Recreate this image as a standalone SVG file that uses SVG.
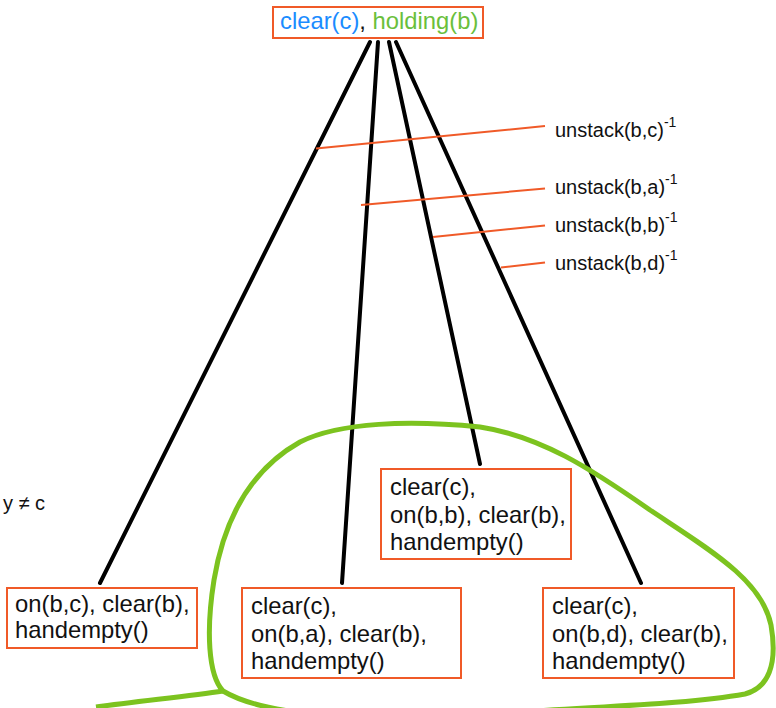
<svg xmlns="http://www.w3.org/2000/svg" width="776" height="708" viewBox="0 0 776 708">
<style>
.box{fill:#fff;stroke:#f05a28;stroke-width:2}
.t{font-family:"Liberation Sans",Arial,sans-serif;font-size:23.8px;fill:#111}
.lbl{font-family:"Liberation Sans",Arial,sans-serif;font-size:20px;fill:#111}
.sup{font-size:14px}
.edge{stroke:#000;stroke-width:4;fill:none;stroke-linecap:round}
.tick{stroke:#f05a28;stroke-width:2;fill:none}
.loop{stroke:#7cc31f;stroke-width:5;fill:none;stroke-linejoin:round}
</style>
<rect width="776" height="708" fill="#fff"/>
<g id="connectors">
<line class="edge" x1="370" y1="42" x2="100" y2="583"/>
<line class="edge" x1="378" y1="42" x2="342" y2="583"/>
<line class="edge" x1="389" y1="42" x2="480" y2="464"/>
<line class="edge" x1="396" y1="42" x2="641" y2="583"/>
<line class="tick" x1="316" y1="148.5" x2="545" y2="126"/>
<line class="tick" x1="361" y1="205" x2="545" y2="188.5"/>
<line class="tick" x1="433" y1="237" x2="545" y2="225.5"/>
<line class="tick" x1="501" y1="267.5" x2="545" y2="262.5"/>
</g>
<g id="group-loop">
<path class="loop" d="M 96 707 C 140 701 190 696 223 691"/>
<path class="loop" d="M 223 691 C 208 675 206 630 214 580 C 224 520 250 470 300 442 C 340 422 410 420 480 427 C 540 436 590 468 650 510 C 710 550 762 580 771 625 C 778 665 768 688 745 694 C 690 704 610 706 520 712 C 420 718 280 725 223 691 Z"/>
</g>
<g id="labels">
<text class="lbl" x="555" y="137">unstack(b,c)<tspan class="sup" dy="-10">-1</tspan></text>
<text class="lbl" x="555" y="194">unstack(b,a)<tspan class="sup" dy="-10">-1</tspan></text>
<text class="lbl" x="555" y="232">unstack(b,b)<tspan class="sup" dy="-10">-1</tspan></text>
<text class="lbl" x="555" y="270">unstack(b,d)<tspan class="sup" dy="-10">-1</tspan></text>
<text class="lbl" x="3" y="510">y ≠ c</text>
</g>
<g id="root">
<rect class="box" x="273" y="7" width="210" height="31"/>
<text class="t" x="280" y="29"><tspan fill="#1a8cff">clear(c)</tspan>, <tspan fill="#6abf3c">holding(b)</tspan></text>
</g>
<g id="node-bc">
<rect class="box" x="7" y="588" width="190" height="60"/>
<text class="t" x="15" y="612">on(b,c), clear(b),</text>
<text class="t" x="15" y="638">handempty()</text>
</g>
<g id="node-ba">
<rect class="box" x="242" y="588" width="219" height="90"/>
<text class="t" x="251" y="614">clear(c),</text>
<text class="t" x="251" y="641.5">on(b,a), clear(b),</text>
<text class="t" x="251" y="669">handempty()</text>
</g>
<g id="node-bb">
<rect class="box" x="381" y="469" width="190" height="90"/>
<text class="t" x="390" y="495">clear(c),</text>
<text class="t" x="390" y="522.5">on(b,b), clear(b),</text>
<text class="t" x="390" y="550">handempty()</text>
</g>
<g id="node-bd">
<rect class="box" x="543" y="588" width="191" height="90"/>
<text class="t" x="552" y="614">clear(c),</text>
<text class="t" x="552" y="641.5">on(b,d), clear(b),</text>
<text class="t" x="552" y="669">handempty()</text>
</g>
</svg>
